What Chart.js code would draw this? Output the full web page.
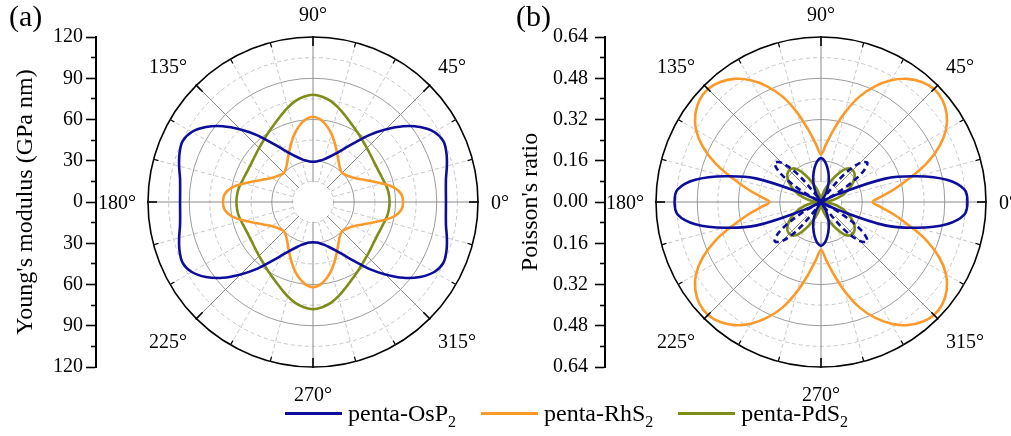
<!DOCTYPE html>
<html>
<head>
<meta charset="utf-8">
<script src="https://cdn.jsdelivr.net/npm/chart.js@4/dist/chart.umd.min.js"></script>
<style>
  html, body { margin: 0; padding: 0; background: #fff; width: 1011px; height: 436px; overflow: hidden; }
  #wrap { position: relative; width: 1011px; height: 436px; overflow: hidden; }
  canvas { position: absolute; top: 0; }
  #cA { left: 0; }
  #cB { left: 505px; }
  #legend { position: absolute; left: 285px; top: 399px; display: flex; align-items: center;
            font-family: 'Liberation Serif', 'Times New Roman', serif; font-size: 24px; line-height: 28px;
            color: #000; white-space: nowrap; }
  #legend .item { display: flex; align-items: center; margin-right: 25px; }
  #legend .sw { display: inline-block; width: 57px; height: 3px; margin-right: 6px; }
  #legend .txt { display: inline-block; }
  #legend sub { font-size: 16px; line-height: 0; vertical-align: -6px; }
</style>
</head>
<body>
<div id="wrap">
  <canvas id="cA" width="530" height="436"></canvas>
  <canvas id="cB" width="532" height="436"></canvas>
  <div id="legend">
    <span class="item"><span class="sw" style="background:#0d0d9c"></span><span class="txt">penta-OsP<sub>2</sub></span></span>
    <span class="item"><span class="sw" style="background:#fb9a2a"></span><span class="txt">penta-RhS<sub>2</sub></span></span>
    <span class="item"><span class="sw" style="background:#7f8c18"></span><span class="txt">penta-PdS<sub>2</sub></span></span>
  </div>
</div>
<script>
// Angle categories (degrees), going clockwise from the top (90°)
const angleDeg = [90,85,80,75,70,65,60,55,50,45,40,35,30,25,20,15,10,5,0,
  355,350,345,340,335,330,325,320,315,310,305,300,295,290,285,280,275,270,
  265,260,255,250,245,240,235,230,225,220,215,210,205,200,195,190,185,180,
  175,170,165,160,155,150,145,140,135,130,125,120,115,110,105,100,95];

// Angle tick labels
const angleTickValues = [0,45,90,135,180,225,270,315];
const angleTickLabels = ['0°','45°','90°','135°','180°','225°','270°','315°'];

// (a) Young's modulus (GPa nm)
const youngOsP2 = [29.3,29.6,30.6,32.3,35,38.8,44.5,52.5,63.5,74.5,85.7,95,101.8,104.6,103.3,100.8,98.2,97,96.7,
  97,98.2,100.8,103.3,104.6,101.8,95,85.7,74.5,63.5,52.5,44.5,38.8,35,32.3,30.6,29.6,29.3,
  29.6,30.6,32.3,35,38.8,44.5,52.5,63.5,74.5,85.7,95,101.8,104.6,103.3,100.8,98.2,97,96.7,
  97,98.2,100.8,103.3,104.6,101.8,95,85.7,74.5,63.5,52.5,44.5,38.8,35,32.3,30.6,29.6];
const youngRhS2 = [62,60.3,56.5,51.5,46,40.8,36.5,33.2,31,30,30.8,32.5,35,39,44.5,52,60,64.5,65.5,
  64.5,60,52,44.5,39,35,32.5,30.8,30,31,33.2,36.5,40.8,46,51.5,56.5,60.3,62,
  60.3,56.5,51.5,46,40.8,36.5,33.2,31,30,30.8,32.5,35,39,44.5,52,60,64.5,65.5,
  64.5,60,52,44.5,39,35,32.5,30.8,30,31,33.2,36.5,40.8,46,51.5,56.5,60.3];
const youngPdS2 = [78,76.8,74.5,71,67.3,64,61.3,59,57,55.5,54.2,53.3,52.8,52.8,53.2,54,55,55.5,55.7,
  55.5,55,54,53.2,52.8,52.8,53.3,54.2,55.5,57,59,61.3,64,67.3,71,74.5,76.8,78,
  76.8,74.5,71,67.3,64,61.3,59,57,55.5,54.2,53.3,52.8,52.8,53.2,54,55,55.5,55.7,
  55.5,55,54,53.2,52.8,52.8,53.3,54.2,55.5,57,59,61.3,64,67.3,71,74.5,76.8];

// (b) Poisson's ratio
const poissonOsP2 = [0.17,0.16,0.138,0.113,0.088,0.062,0.035,0,0,0,0,0,0,0.07,0.265,0.385,0.495,0.558,0.568,
  0.558,0.495,0.385,0.265,0.07,0,0,0,0,0,0,0.035,0.062,0.088,0.113,0.138,0.16,0.17,
  0.16,0.138,0.113,0.088,0.062,0.035,0,0,0,0,0,0,0.07,0.265,0.385,0.495,0.558,0.568,
  0.558,0.495,0.385,0.265,0.07,0,0,0,0,0,0,0.035,0.062,0.088,0.113,0.138,0.16];
const poissonOsP2Neg = [0,0,0,0,0,0,0,0.03,0.14,0.215,0.235,0.19,0.09,0,0,0,0,0,0,
  0,0,0,0,0,0.09,0.19,0.235,0.215,0.14,0.03,0,0,0,0,0,0,0,
  0,0,0,0,0,0,0.03,0.14,0.215,0.235,0.19,0.09,0,0,0,0,0,0,
  0,0,0,0,0,0.09,0.19,0.235,0.215,0.14,0.03,0,0,0,0,0,0];
const poissonRhS2 = [0.185,0.225,0.285,0.36,0.435,0.495,0.545,0.583,0.608,0.62,0.615,0.595,0.56,0.505,0.435,0.355,0.29,0.235,0.2,
  0.235,0.29,0.355,0.435,0.505,0.56,0.595,0.615,0.62,0.608,0.583,0.545,0.495,0.435,0.36,0.285,0.225,0.185,
  0.225,0.285,0.36,0.435,0.495,0.545,0.583,0.608,0.62,0.615,0.595,0.56,0.505,0.435,0.355,0.29,0.235,0.2,
  0.235,0.29,0.355,0.435,0.505,0.56,0.595,0.615,0.62,0.608,0.583,0.545,0.495,0.435,0.36,0.285,0.225];
const poissonPdS2 = [0,0.009,0.022,0.04,0.062,0.088,0.12,0.152,0.17,0.174,0.17,0.158,0.14,0.12,0.098,0.075,0.05,0.025,0,
  0.025,0.05,0.075,0.098,0.12,0.14,0.158,0.17,0.174,0.17,0.152,0.12,0.088,0.062,0.04,0.022,0.009,0,
  0.009,0.022,0.04,0.062,0.088,0.12,0.152,0.17,0.174,0.17,0.158,0.14,0.12,0.098,0.075,0.05,0.025,0,
  0.025,0.05,0.075,0.098,0.12,0.14,0.158,0.17,0.174,0.17,0.152,0.12,0.088,0.062,0.04,0.022,0.009];

const C_OSP2 = '#0d0d9c', C_RHS2 = '#fb9a2a', C_PDS2 = '#7f8c18';
const FONT = "'Liberation Serif', 'Times New Roman', serif";
Chart.defaults.font.family = FONT;
Chart.defaults.color = '#000';

// decorations of the polar frame: center gap, rim ticks, angle labels, panel letter
const polarDecor = {
  id: 'polarDecor',
  beforeDatasetsDraw(chart, args, o) {
    const s = chart.scales.r, ctx = chart.ctx;
    const r0 = s.getDistanceFromCenterForValue(o.innerValue);
    ctx.save();
    ctx.fillStyle = '#fff';
    ctx.beginPath();
    ctx.arc(s.xCenter, s.yCenter, r0 - 0.8, 0, Math.PI * 2);
    ctx.fill();
    ctx.restore();
  },
  afterDatasetsDraw(chart, args, o) {
    const s = chart.scales.r, ctx = chart.ctx;
    const xc = s.xCenter, yc = s.yCenter, R = s.drawingArea;
    ctx.save();
    ctx.strokeStyle = '#000';
    for (let d = 0; d < 360; d += 15) {
      const a = d * Math.PI / 180, c = Math.cos(a), sn = -Math.sin(a);
      const major = d % 45 === 0;
      const r1 = major ? R + 1 : R, r2 = major ? R - 9 : R - 5;
      ctx.lineWidth = major ? 1.6 : 1.2;
      ctx.beginPath();
      ctx.moveTo(xc + c * r1, yc + sn * r1);
      ctx.lineTo(xc + c * r2, yc + sn * r2);
      ctx.stroke();
    }
    ctx.fillStyle = '#000';
    ctx.font = '20px ' + FONT;
    ctx.textBaseline = 'alphabetic';
    const dy = 7;
    const place = {
      0:   ['left',   R + 13, 0],
      45:  ['left',   125, -136],
      90:  ['center', 0, -188],
      135: ['right',  -126, -136],
      180: ['right',  -R - 12, 0],
      225: ['right',  -126, 139],
      270: ['center', 0, 192],
      315: ['left',   125, 139]
    };
    angleTickValues.forEach((v, i) => {
      const p = place[v];
      ctx.textAlign = p[0];
      ctx.fillText(angleTickLabels[i], xc + p[1], yc + p[2] + dy);
    });
    ctx.textAlign = 'left';
    ctx.font = '30px ' + FONT;
    ctx.fillText(o.letter, o.letterX, 26);
    ctx.restore();
  }
};

function makePanel(id, cfg) {
  const nSteps = Math.round(cfg.max / cfg.step);
  return new Chart(document.getElementById(id), {
    type: 'radar',
    data: { labels: angleDeg, datasets: cfg.datasets },
    options: {
      responsive: false,
      animation: false,
      events: [],
      layout: { padding: { left: 0, right: 0, top: 37, bottom: 69 } },
      elements: { point: { radius: 0 }, line: { tension: 0.35, borderWidth: 2.6, fill: false } },
      plugins: {
        legend: { display: false },
        tooltip: { enabled: false },
        polarDecor: { innerValue: cfg.step, letter: cfg.letter, letterX: cfg.letterX }
      },
      scales: {
        r: {
          min: 0, max: cfg.max,
          ticks: { display: false, stepSize: cfg.step },
          pointLabels: { display: false },
          grid: {
            circular: true,
            color: c => c.index === nSteps ? '#000' : (c.index % 2 ? '#c6c6c6' : '#9c9c9c'),
            lineWidth: c => c.index === nSteps ? 1.6 : 1,
            borderDash: c => (c.index % 2 && c.index !== nSteps) ? [4, 3] : []
          },
          border: { dash: c => (c.index % 2 && c.index !== nSteps) ? [4, 3] : [] },
          angleLines: {
            display: true,
            color: c => { const a = angleDeg[c.index]; return a % 45 === 0 ? '#8a8a8a' : '#c6c6c6'; },
            lineWidth: c => { const a = angleDeg[c.index]; return a % 15 === 0 ? 1 : 0; },
            borderDash: c => { const a = angleDeg[c.index]; return a % 45 === 0 ? [] : [4, 3]; }
          }
        },
        y: {
          type: 'linear', position: 'left',
          min: -cfg.max, max: cfg.max,
          afterFit: s => { s.width = cfg.axisWidth; },
          ticks: {
            stepSize: cfg.step, autoSkip: false, padding: cfg.tickPad, color: '#000',
            font: { size: 20 },
            callback: (v, i) => i % 2 === 0 ? cfg.fmt(Math.abs(v)) : ''
          },
          grid: {
            drawOnChartArea: false, drawTicks: true, tickLength: 10,
            tickColor: '#000', tickWidth: 1.6,
            tickBorderDash: c => c.index % 2 ? [5, 5] : [],
            tickBorderDashOffset: c => c.index % 2 ? 5 : 0
          },
          border: { display: true, color: '#000', width: 2 },
          title: { display: true, text: cfg.title, color: '#000', font: { size: 24 }, padding: { top: 11, bottom: 0 } }
        }
      }
    },
    plugins: [polarDecor]
  });
}

makePanel('cA', {
  max: 120, step: 15, axisWidth: 96, tickPad: 3, letter: '(a)', letterX: 9,
  fmt: v => String(Math.round(v)),
  title: "Young's modulus (GPa nm)",
  datasets: [
    { label: 'penta-OsP2', data: youngOsP2, borderColor: C_OSP2 },
    { label: 'penta-RhS2', data: youngRhS2, borderColor: C_RHS2 },
    { label: 'penta-PdS2', data: youngPdS2, borderColor: C_PDS2 }
  ]
});

makePanel('cB', {
  max: 0.64, step: 0.08, axisWidth: 100, tickPad: 7, letter: '(b)', letterX: 11,
  fmt: v => v.toFixed(2),
  title: "Poisson's ratio",
  datasets: [
    { label: 'penta-OsP2', data: poissonOsP2, borderColor: C_OSP2 },
    { label: 'penta-OsP2 (negative)', data: poissonOsP2Neg, borderColor: C_OSP2, borderDash: [6, 4] },
    { label: 'penta-RhS2', data: poissonRhS2, borderColor: C_RHS2 },
    { label: 'penta-PdS2', data: poissonPdS2, borderColor: C_PDS2 }
  ]
});
</script>
</body>
</html>
